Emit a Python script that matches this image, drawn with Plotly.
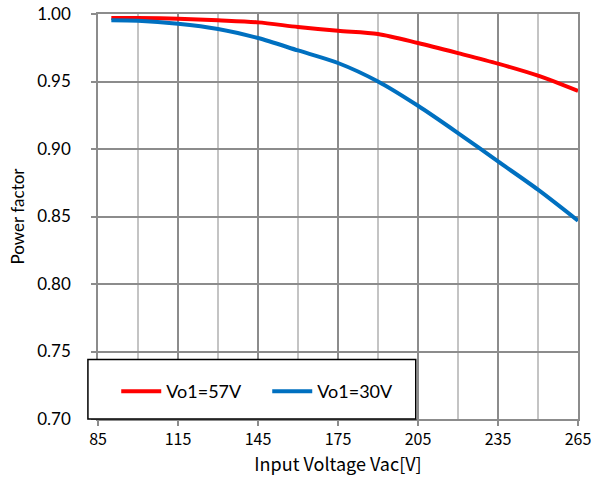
import plotly.graph_objects as go

voltage = [90, 100, 115, 130, 145, 160, 175, 190, 205, 220, 235, 250, 265]
pf_57v = [0.997, 0.997, 0.9965, 0.9953, 0.9938, 0.9904, 0.9876, 0.9852, 0.9785, 0.971, 0.9632, 0.9543, 0.943]
pf_30v = [0.9953, 0.995, 0.9928, 0.9889, 0.9822, 0.973, 0.9637, 0.950, 0.932, 0.9118, 0.8908, 0.8699, 0.8469]
series_names = ["Vo1=57V", "Vo1=30V"]
x_ticks = [85, 115, 145, 175, 205, 235, 265]
y_ticks = [0.70, 0.75, 0.80, 0.85, 0.90, 0.95, 1.00]

fig = go.Figure()
fig.add_trace(go.Scatter(x=voltage, y=pf_57v, mode="lines", name=series_names[0],
                         line=dict(color="#FF0000", width=4, shape="spline", smoothing=0.8)))
fig.add_trace(go.Scatter(x=voltage, y=pf_30v, mode="lines", name=series_names[1],
                         line=dict(color="#0070C0", width=4, shape="spline", smoothing=0.8)))

grid_major = "#8C8C8C"
grid_minor = "#C4C4C4"

fig.update_layout(
    width=607, height=479,
    margin=dict(l=98, r=29, t=14, b=60),
    paper_bgcolor="white", plot_bgcolor="white",
    showlegend=True,
    legend=dict(orientation="h", x=0.038, y=0.068, xanchor="left", yanchor="middle",
                bgcolor="rgba(0,0,0,0)", font=dict(family="Lato", size=18, color="black"),
                entrywidth=96, itemwidth=40),
    shapes=[dict(type="rect", xref="paper", yref="paper",
                 x0=-0.021, x1=0.662, y0=0.0, y1=0.147,
                 line=dict(color="black", width=1.5), fillcolor="white", layer="above")],
)
fig.update_xaxes(
    range=[85, 265], tickmode="array", tickvals=x_ticks, ticktext=[str(v) for v in x_ticks],
    showgrid=True, gridcolor=grid_major, gridwidth=1.5,
    minor=dict(dtick=15, tick0=85, showgrid=True, gridcolor=grid_minor, gridwidth=1.5),
    showline=True, linecolor=grid_major, linewidth=1.5, mirror=True,
    ticks="outside", ticklen=5, tickcolor=grid_major, tickwidth=1.5,
    tickfont=dict(family="Noto Sans CJK JP", size=16, color="black"),
    title=dict(text="Input Voltage Vac[V]", font=dict(family="Noto Sans CJK JP", size=18, color="black"), standoff=2),
    zeroline=False, automargin=False,
)
fig.update_yaxes(
    range=[0.70, 1.00], tickmode="array", tickvals=y_ticks, ticktext=["%.2f" % v for v in y_ticks],
    showgrid=True, gridcolor=grid_major, gridwidth=1.5,
    showline=True, linecolor=grid_major, linewidth=1.5, mirror=True,
    ticks="outside", ticklen=5, tickcolor=grid_major, tickwidth=1.5,
    ticklabelstandoff=17,
    tickfont=dict(family="Lato", size=17, color="black"),
    title=dict(text="Power factor", font=dict(family="Lato", size=17, color="black"), standoff=8),
    zeroline=False, automargin=False,
)

fig.write_html("out.html")
